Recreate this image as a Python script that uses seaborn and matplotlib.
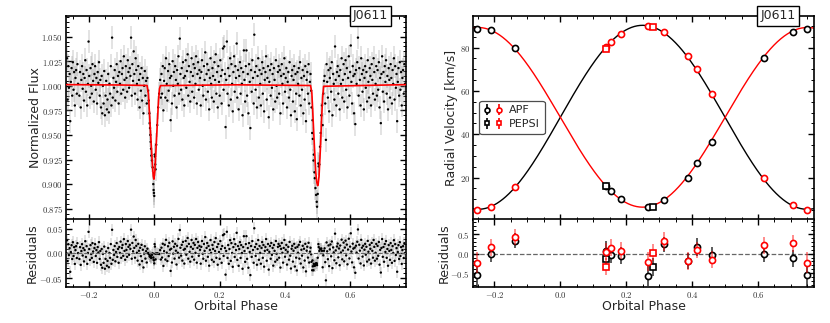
import numpy as np
import pandas as pd
import matplotlib
matplotlib.use("Agg")
import matplotlib.pyplot as plt
import seaborn as sns
from matplotlib.ticker import MultipleLocator, FuncFormatter
from matplotlib.legend_handler import HandlerTuple

# ---------------- light curve data (phase in thousandths, flux offset in ppt) ----------------
phase_A = [-229, -227, -225, -223, -221, -219, -217, -215, -213, -211,
           -209, -207, -205, -203, -201, -199, -197, -195, -193, -191,
           -189, -187, -185, -183, -181, -179, -177, -175, -173, -171,
           -169, -167, -165, -163, -161, -159, -157, -155, -153, -151,
           -149, -147, -145, -143, -141, -139, -137, -135, -133, -131,
           -129, -127, -125, -123, -121, -119, -117, -115, -113, -111,
           -109, -107, -105, -103, -101, -99, -97, -95, -93, -91,
           -89, -87, -85, -83, -81, -79, -77, -75, -73, -71,
           -69, -67, -65, -63, -61, -59, -57, -55, -53, -51,
           -49, -47, -45, -43, -41, -39, -37, -35, -33, -31,
           -29, -27, -25, -23]
flux_A = [-10, 14, -22, 6, 20, -3, 12, -15, 8, 26,
          -6, 16, -20, 2, 45, 10, -12, 18, 0, -8,
          22, 5, -16, 12, 20, -4, 8, -18, 14, 3,
          24, -10, 6, -22, 10, -28, 0, -18, 15, -30,
          -10, 5, -24, -14, 12, -27, 2, -8, 20, -20,
          49, -12, 8, -2, 16, -15, 4, 22, -6, 10,
          -18, 14, 2, 25, -8, 12, 18, -4, 30, 6,
          -12, 20, 8, -6, 26, 14, -2, 18, 10, 49,
          -10, 22, 5, 35, 12, -8, 28, 16, 2, -14,
          20, 6, -22, 12, -5, 18, -15, 8, -28, 0,
          15, -10, 5, -18]

phase_P = [-21, -19, -17, -15, -14, -13, -12, -11, -10, -9,
           -7, -5, -3, -2, -1, 0, 1, 2, 3, 4,
           6, 9, 12, 15, 18, 20]
flux_P = [8, -5, -15, -28, -38, -43, -50, -57, -64, -71,
          -76, -83, -100, -106, -109, -112, -70, -72, -80, -85,
          -60, -40, -22, -8, 6, -12]

phase_B = [22, 24, 26, 28, 30, 32, 34, 36, 38, 40,
           42, 44, 46, 48, 50, 52, 54, 56, 58, 60,
           62, 64, 66, 68, 70, 72, 74, 76, 78, 80,
           82, 84, 86, 88, 90, 92, 94, 96, 98, 100,
           102, 104, 106, 108, 110, 112, 114, 116, 118, 120,
           122, 124, 126, 128, 130, 132, 134, 136, 138, 140,
           142, 144, 146, 148, 150, 152, 154, 156, 158, 160,
           162, 164, 166, 168, 170, 172, 174, 176, 178, 180,
           182, 184, 186, 188, 190, 192, 194, 196, 198, 200,
           202, 204, 206, 208, 210, 212, 214, 216, 218, 220,
           222, 224, 226, 228, 230, 232, 234, 236, 238, 240,
           242, 244, 246, 248, 250, 252, 254, 256, 258, 260,
           262, 264, 266, 268, 270, 272, 274, 276, 278, 280,
           282, 284, 286, 288, 290, 292, 294, 296, 298, 300,
           302, 304, 306, 308, 310, 312, 314, 316, 318, 320,
           322, 324, 326, 328, 330, 332, 334, 336, 338, 340,
           342, 344, 346, 348, 350, 352, 354, 356, 358, 360,
           362, 364, 366, 368, 370, 372, 374, 376, 378, 380,
           382, 384, 386, 388, 390, 392, 394, 396, 398, 400,
           402, 404, 406, 408, 410, 412, 414, 416, 418, 420,
           422, 424, 426, 428, 430, 432, 434, 436, 438, 440,
           442, 444, 446, 448, 450, 452, 454, 456, 458, 460,
           462, 464, 466, 468, 470, 472, 474, 476, 478]
flux_B = [12, -8, 20, -25, 5, 18, -12, 28, 2, -15,
          15, -5, 22, 8, -35, 10, -18, 25, 0, 14,
          -10, 20, 6, -22, 16, 2, 30, -8, 48, 12,
          -4, 18, -14, 24, 8, -20, 10, 26, -2, 15,
          32, -10, 20, 4, -16, 14, 28, -6, 10, 22,
          -12, 18, 2, 30, -18, 12, 24, -4, 16, 8,
          -20, 14, 26, 0, -10, 20, 6, 34, -14, 12,
          22, -6, 16, -24, 8, 28, 2, -12, 18, 10,
          -16, 24, 6, 32, -8, 14, -22, 20, 4, -10,
          26, 10, -18, 16, 38, -4, 40, 12, -42, 6,
          45, -8, 18, -20, 10, 28, -14, 22, 2, -26,
          14, 30, -6, 20, 8, 43, -12, 16, -24, 10,
          24, -8, 18, 2, -30, 14, 36, 6, -16, 20,
          36, -10, 12, -28, 22, 4, -43, 16, -6, 26,
          8, -18, 52, 14, -4, 20, -22, 10, 28, -12,
          16, 2, -20, 12, 24, -8, 18, -26, 6, 14,
          30, -14, 8, 20, -32, 4, 16, -10, 22, -2,
          12, -24, 18, 6, -16, 26, 0, -12, 14, 20,
          -8, 16, -28, 10, 22, 2, -18, 12, 28, -6,
          8, 18, -22, 4, 14, -12, 24, -4, -30, 10,
          16, -16, 6, 20, -26, 12, -8, -34, 14, 2,
          18, -10, 24, -20, 8, -4, 16, -28, 10, -14,
          20, -36, 6, 14, -8, 22, -18, 4, 12]

phase_S = [480, 481, 483, 484, 485, 487, 488, 490, 491, 493,
           495, 497, 498, 500, 502, 503, 505, 507, 509, 511,
           513, 515, 517, 519]
flux_S = [-5, -22, -48, -35, -54, -76, -70, -88, -94, -104,
          -111, -118, -123, -110, -79, -82, -80, -62, -48, -30,
          -20, -40, -8, 5]

phase_C = [521, 523, 525, 527, 529, 531, 533, 535, 537, 539,
           541, 543, 545, 547, 549, 551, 553, 555, 557, 559,
           561, 563, 565, 567, 569, 571, 573, 575, 577, 579,
           581, 583, 585, 587, 589, 591, 593, 595, 597, 599,
           601, 603, 605, 607, 609, 611, 613, 615, 617, 619,
           621, 623, 625, 627, 629, 631, 633, 635, 637, 639,
           641, 643, 645, 647, 649, 651, 653, 655, 657, 659,
           661, 663, 665, 667, 669, 671, 673, 675, 677, 679,
           681, 683, 685, 687, 689, 691, 693, 695, 697, 699,
           701, 703, 705, 707, 709, 711, 713, 715, 717, 719,
           721, 723, 725, 727, 729, 731, 733, 735, 737, 739,
           741, 743, 745, 747, 749, 751, 753, 755, 757, 759,
           761, 763, 765, 767]
flux_C = [10, -18, -55, 22, 4, -12, 16, -26, 8, 18,
          -6, 24, -30, 12, 2, -14, 40, 6, -20, 14,
          20, -8, 10, -24, 16, 2, 28, -12, 6, 22,
          -16, 12, 26, -4, 18, -22, 8, 30, -10, 14,
          41, 4, -18, 20, 10, -28, 12, -39, 16, 2,
          24, 49, -10, 18, 6, -20, 28, 12, -6, 16,
          -24, 8, 20, -2, 14, -16, 26, 4, -12, 18,
          10, -20, 22, 6, -8, 28, 14, -14, 2, 20,
          -10, 16, -4, 24, -22, 8, -38, 12, 30, -6,
          14, -16, 20, 4, 26, -8, 10, -24, 18, 6,
          -12, 22, 8, -18, 16, 2, 28, -14, 20, -2,
          12, -36, 4, 18, -10, 24, -4, 14, -20, 8,
          16, -8, 22, 2]

lc_err = 0.012

# eclipse model (phase, normalized flux)
model_phase = [-0.27, -0.10, -0.022, -0.018, -0.014, -0.010, -0.006, -0.003, -0.001, 0.002,
               0.006, 0.010, 0.013, 0.016, 0.019, 0.25, 0.478, 0.482, 0.486, 0.490,
               0.494, 0.497, 0.4995, 0.501, 0.504, 0.508, 0.512, 0.515, 0.518, 0.77]
model_flux = [1.0012, 1.0008, 1.0003, 0.992, 0.968, 0.944, 0.921, 0.908, 0.905, 0.914,
              0.940, 0.966, 0.985, 0.997, 1.0002, 1.0010, 1.0003, 0.993, 0.965, 0.937,
              0.912, 0.902, 0.8985, 0.899, 0.908, 0.935, 0.968, 0.988, 0.9995, 1.0012]

# ---------------- radial velocity data ----------------
apf_phase = [-0.209, -0.137, 0.140, 0.154, 0.184, 0.267, 0.314, 0.387, 0.416, 0.459, 0.618, 0.705, 0.748]
apf_rv_black = [88.2, 79.7, 16.0, 13.9, 10.2, 6.2, 9.7, 20.0, 26.5, 36.6, 75.1, 87.2, 88.6]
apf_rv_red = [6.6, 15.6, 80.3, 82.8, 86.5, 89.9, 87.4, 76.0, 70.0, 58.8, 19.6, 7.3, 5.0]
apf_res_black = [-0.01, 0.33, 0.07, -0.04, -0.05, -0.57, 0.24, -0.19, 0.17, -0.04, 0.00, -0.12, -0.55]
apf_res_red = [0.16, 0.42, 0.05, 0.15, 0.08, -0.21, 0.31, -0.19, 0.09, -0.15, 0.21, 0.26, -0.23]
apf_err_black = [0.20, 0.19, 0.24, 0.20, 0.21, 0.25, 0.19, 0.20, 0.22, 0.22, 0.22, 0.22, 0.30]
apf_err_red = [0.22, 0.20, 0.22, 0.22, 0.22, 0.24, 0.24, 0.22, 0.20, 0.22, 0.22, 0.22, 0.26]

pepsi_phase = [0.138, 0.281]
pepsi_rv_black = [16.3, 6.6]
pepsi_rv_red = [79.5, 89.4]
pepsi_res_black = [-0.13, -0.35]
pepsi_res_red = [-0.33, 0.02]
pepsi_err_black = [0.22, 0.23]
pepsi_err_red = [0.22, 0.22]

# orbit model parameters
rv_gamma = 47.8
K_black_curve = 42.5
K_red_curve = 41.5

# ---------------- style ----------------
sns.set_theme(style="ticks")
plt.rcParams["font.family"] = ["DejaVu Sans"]
plt.rcParams["mathtext.fontset"] = "cm"

fig = plt.figure(figsize=(8.3, 3.23), dpi=100)
yt, ym, yb = 1 - 16 / 323, 1 - 219.5 / 323, 1 - 287 / 323
axL = fig.add_axes([66 / 830, ym, 340 / 830, yt - ym])
axLr = fig.add_axes([66 / 830, yb, 340 / 830, ym - yb])
axR = fig.add_axes([473 / 830, ym, 341 / 830, yt - ym])
axRr = fig.add_axes([473 / 830, yb, 341 / 830, ym - yb])


def fmt(d):
    def f(v, p):
        if abs(v) < 1e-9:
            v = 0.0
        return f"${v:.{d}f}$"
    return FuncFormatter(f)


def style(ax, ymaj, ymin, yd, xlabels):
    ax.xaxis.set_major_locator(MultipleLocator(0.2))
    ax.xaxis.set_minor_locator(MultipleLocator(0.05))
    ax.yaxis.set_major_locator(MultipleLocator(ymaj))
    ax.yaxis.set_minor_locator(MultipleLocator(ymin))
    ax.yaxis.set_major_formatter(fmt(yd))
    ax.xaxis.set_major_formatter(fmt(1))
    ax.tick_params(which="both", direction="in", top=True, right=True,
                   colors="black", labelsize=6.3, labelcolor="#333333", pad=2.2)
    ax.tick_params(which="major", length=4.5, width=1.0)
    ax.tick_params(which="minor", length=2.2, width=0.7)
    if not xlabels:
        ax.tick_params(labelbottom=False)
    for s in ax.spines.values():
        s.set_color("black")
        s.set_linewidth(1.2)
        s.set_visible(True)
    ax.set_facecolor("white")


# ---------------- light curve panel ----------------
lc_phase = np.array(phase_A + phase_P + phase_B + phase_S + phase_C) / 1000.0
lc_flux = 1.0 + np.array(flux_A + flux_P + flux_B + flux_S + flux_C) / 1000.0
wrap = lc_phase >= 0.73
lc_phase_all = np.concatenate([lc_phase[wrap] - 1.0, lc_phase])
lc_flux_all = np.concatenate([lc_flux[wrap], lc_flux])
lc_res_all = lc_flux_all - np.interp(lc_phase_all, model_phase, model_flux)
lc = pd.DataFrame({"phase": lc_phase_all, "flux": lc_flux_all, "res": lc_res_all})
mdl = pd.DataFrame({"phase": model_phase, "flux": model_flux})

for ax, col in [(axL, "flux"), (axLr, "res")]:
    ax.errorbar(lc["phase"], lc[col], yerr=lc_err, fmt="none",
                ecolor=(0.6, 0.6, 0.6, 0.3), elinewidth=1.3, zorder=1)
    sns.scatterplot(data=lc, x="phase", y=col, ax=ax, color="black", s=3,
                    marker="o", edgecolor="none", zorder=2, legend=False)
sns.lineplot(data=mdl, x="phase", y="flux", ax=axL, color="red", lw=1.2,
             estimator=None, sort=False, zorder=3, legend=False)
axLr.axhline(0, color="0.4", ls="--", lw=0.8, zorder=3)

axL.set_xlim(-0.27, 0.77)
axLr.set_xlim(-0.27, 0.77)
axL.set_ylim(0.864, 1.071)
axLr.set_ylim(-0.068, 0.069)
style(axL, 0.025, 0.005, 3, False)
style(axLr, 0.05, 0.01, 2, True)
axL.set_xlabel("")
axL.set_ylabel("Normalized Flux", fontsize=9)
axLr.set_ylabel("Residuals", fontsize=9)
axLr.set_xlabel("Orbital Phase", fontsize=9)

# ---------------- RV panel ----------------
curve_phase = np.linspace(-0.27, 0.77, 600)
curves = pd.DataFrame({
    "phase": curve_phase,
    "black": rv_gamma + K_black_curve * np.sin(2 * np.pi * curve_phase),
    "red": rv_gamma - K_red_curve * np.sin(2 * np.pi * curve_phase),
})
sns.lineplot(data=curves, x="phase", y="black", ax=axR, color="black", lw=1.0,
             estimator=None, legend=False, zorder=1)
sns.lineplot(data=curves, x="phase", y="red", ax=axR, color="red", lw=1.0,
             estimator=None, legend=False, zorder=1)
axRr.axhline(0, color="0.4", ls="--", lw=0.9, zorder=0)


def wrapped(ph, *vals):
    ph = np.asarray(ph)
    w = ph >= 0.73
    out = [np.concatenate([ph, ph[w] - 1.0])]
    for v in vals:
        v = np.asarray(v)
        out.append(np.concatenate([v, v[w]]))
    return out


handles = {}
for name, ph, rvb, rvr, rsb, rsr, eb, er, mk in [
    ("APF", apf_phase, apf_rv_black, apf_rv_red, apf_res_black, apf_res_red,
     apf_err_black, apf_err_red, "o"),
    ("PEPSI", pepsi_phase, pepsi_rv_black, pepsi_rv_red, pepsi_res_black, pepsi_res_red,
     pepsi_err_black, pepsi_err_red, "s"),
]:
    p, vb, vr, rb, rr, e1, e2 = wrapped(ph, rvb, rvr, rsb, rsr, eb, er)
    ms = 4.4 if mk == "o" else 4.2
    hb = axR.errorbar(p, vb, yerr=e1, fmt=mk, ms=ms, mfc="white", mec="black", mew=1.2,
                      ecolor="black", elinewidth=1.2, zorder=3)
    hr = axR.errorbar(p, vr, yerr=e2, fmt=mk, ms=ms, mfc="white", mec="red", mew=1.2,
                      ecolor="red", elinewidth=1.2, zorder=3)
    axRr.errorbar(p, rb, yerr=e1, fmt=mk, ms=ms, mfc="white", mec="black", mew=1.2,
                  ecolor=(0, 0, 0, 0.75), elinewidth=1.2, zorder=3)
    axRr.errorbar(p, rr, yerr=e2, fmt=mk, ms=ms, mfc="white", mec="red", mew=1.2,
                  ecolor=(1, 0, 0, 0.45), elinewidth=1.4, zorder=4)
    handles[name] = (hb, hr)

axR.set_xlim(-0.265, 0.77)
axRr.set_xlim(-0.265, 0.77)
axR.set_ylim(0.6, 94.6)
axRr.set_ylim(-0.85, 0.87)
style(axR, 20, 5, 0, False)
style(axRr, 0.5, 0.1, 1, True)
axR.set_xlabel("")
axR.set_ylabel("Radial Velocity [km/s]", fontsize=9)
axRr.set_ylabel("Residuals", fontsize=9)
axRr.set_xlabel("Orbital Phase", fontsize=9)

leg = axR.legend([handles["APF"], handles["PEPSI"]], ["APF", "PEPSI"],
                 handler_map={tuple: HandlerTuple(ndivide=None, pad=0.5)},
                 loc="center left", bbox_to_anchor=(0.012, 0.502), fontsize=8,
                 markerscale=0.8, handlelength=1.7, handletextpad=0.6, borderpad=0.4,
                 labelspacing=0.35, borderaxespad=0.2, frameon=True, fancybox=True,
                 framealpha=1)
leg.get_frame().set_edgecolor("0.3")
leg.get_frame().set_linewidth(0.9)

# label positions
for ax, x in [(axL, -0.091), (axLr, -0.099), (axR, -0.062), (axRr, -0.084)]:
    ax.yaxis.set_label_coords(x, 0.5)
    ax.yaxis.label.set_va("center")
for ax in (axLr, axRr):
    ax.xaxis.set_label_coords(0.5, -(306.7 - 287) / 67.5)
    ax.xaxis.label.set_va("center")

for ax in (axL, axR):
    ax.text(0.895, 1.0, "J0611", transform=ax.transAxes, ha="center", va="center",
            fontsize=9, zorder=10,
            bbox=dict(boxstyle="square,pad=0.25", fc="white", ec="black", lw=1.0))

fig.savefig("out.png", dpi=100, facecolor="white")
